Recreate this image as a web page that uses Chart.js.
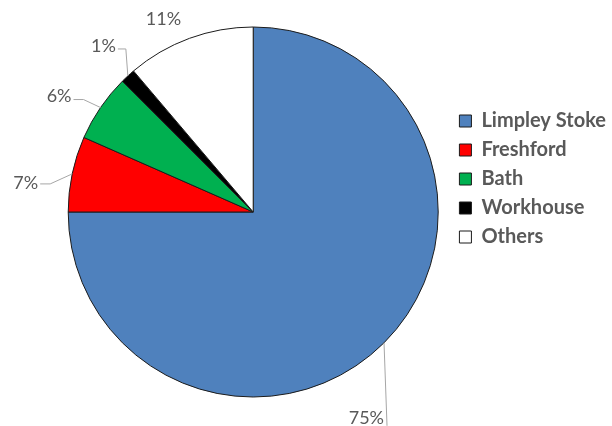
<!DOCTYPE html>
<html lang="en">
<head>
  <meta charset="utf-8">
  <script src="https://cdn.jsdelivr.net/npm/chart.js@4.4.1/dist/chart.umd.min.js"></script>
  <title>Pie</title>
</head>
<body>
  <canvas id="pie-chart" width="612" height="426"></canvas>
</body>
</html>

<style>
  body {
    margin: 0;
    background: #ffffff;
  }
  #pie-chart {
    display: block;
  }
</style>

<script>
const categories = ['Limpley Stoke', 'Freshford', 'Bath', 'Workhouse', 'Others'];
const shares = [75.0, 6.6, 5.9, 1.3, 11.2];
const colors = ['#4f81bd', '#ff0000', '#00b050', '#000000', '#ffffff'];

// leader line layout for each slice: elbow offset from the arc edge, stub, text offset
const leaders = [
    { ex: 3, ey: 83, hx: 0, tx: -3, ty: -8, align: 'right', line: true },
    { ex: -22, ey: 10, hx: -10, tx: -2, ty: -1, align: 'right', line: true },
    { ex: -17, ey: -8, hx: -10, tx: -2, ty: -3, align: 'right', line: true },
    { ex: -2, ey: -27, hx: -8, tx: -2, ty: -3, align: 'right', line: true },
    { ex: 0, ey: 0, hx: 0, tx: -26, ty: -19, align: 'center', line: false },
];

const labelPlugin = {
    id: 'pctLabels',
    afterDatasetsDraw(chart) {
        const ctx = chart.ctx;
        const meta = chart.getDatasetMeta(0);
        ctx.save();
        ctx.font = '18px Lato';
        ctx.fillStyle = '#595959';
        ctx.strokeStyle = '#a6a6a6';
        ctx.lineWidth = 1;
        ctx.textBaseline = 'middle';
        meta.data.forEach((arc, i) => {
            const mid = (arc.startAngle + arc.endAngle) / 2;
            const ax = arc.x + Math.cos(mid) * arc.outerRadius;
            const ay = arc.y + Math.sin(mid) * arc.outerRadius;
            const l = leaders[i];
            const bx = ax + l.ex, by = ay + l.ey;
            const cx = bx + l.hx;
            if (l.line) {
                ctx.beginPath();
                ctx.moveTo(ax, ay);
                ctx.lineTo(bx, by);
                ctx.lineTo(cx, by);
                ctx.stroke();
            }
            ctx.textAlign = l.align;
            ctx.fillText(Math.round(shares[i]) + '%', cx + l.tx, by + l.ty);
        });
        ctx.restore();
    }
};

const config = {
    type: 'pie',
    data: {
        labels: categories,
        datasets: [{
            data: shares,
            backgroundColor: colors,
            borderColor: '#1b1b1b',
            borderWidth: 1,
        }]
    },
    options: {
        responsive: false,
        animation: false,
        radius: 185,
        layout: {
            padding: { left: 56, right: -4, top: 0, bottom: 2 }
        },
        plugins: {
            tooltip: { enabled: false },
            legend: {
                position: 'right',
                align: 'start',
                title: {
                    display: true,
                    text: '',
                    font: { size: 10, lineHeight: 1 },
                    padding: { top: 92, bottom: 0 }
                },
                labels: {
                    font: { family: 'Lato', size: 20, weight: 'bold' },
                    color: '#595959',
                    boxWidth: 12,
                    boxHeight: 12,
                    padding: 9,
                }
            }
        }
    },
    plugins: [labelPlugin]
};

var chart = new Chart(document.getElementById('pie-chart'), config);
</script>
